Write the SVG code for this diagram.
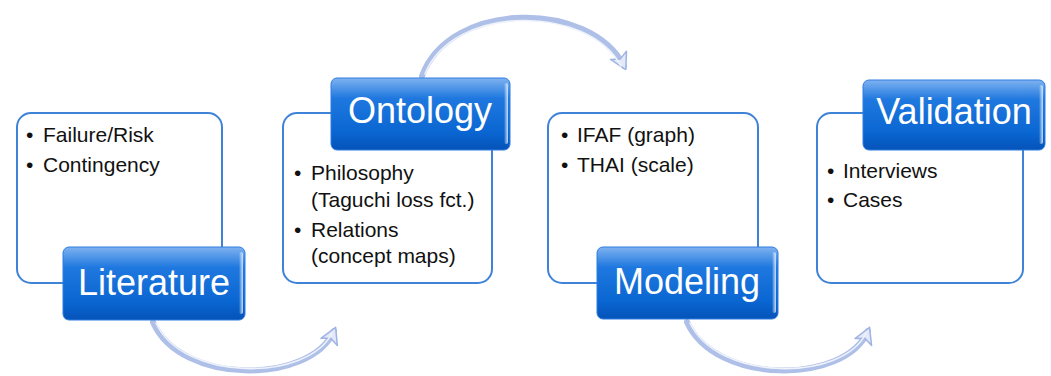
<svg xmlns="http://www.w3.org/2000/svg" width="1051" height="376" viewBox="0 0 1051 376">
  <style>
    .card { fill: #ffffff; stroke: #3f83d9; stroke-width: 2; }
    .label { fill: url(#lblGrad); stroke: #2f7de0; stroke-width: 1; }
    .shine { fill: url(#shineGrad); }
    .ltxt { font-family: "Liberation Sans", Arial, sans-serif; font-size: 36px; fill: #ffffff; text-anchor: middle; }
    .btxt { font-family: "Liberation Sans", Arial, sans-serif; font-size: 21px; fill: #111111; }
    .arc { fill: none; stroke: #aebfe8; stroke-width: 6; stroke-linecap: round; }
    .arcHi { fill: none; stroke: #eef2fb; stroke-width: 1.6; stroke-linecap: round; }
  </style>
  <defs>
    <linearGradient id="lblGrad" x1="0" y1="0" x2="0" y2="1">
      <stop offset="0" stop-color="#7fb2f0"/>
      <stop offset="0.28" stop-color="#1f78df"/>
      <stop offset="0.75" stop-color="#0a66d2"/>
      <stop offset="1" stop-color="#0553b8"/>
    </linearGradient>
    <linearGradient id="shineGrad" x1="0" y1="0" x2="1" y2="0">
      <stop offset="0" stop-color="#ffffff" stop-opacity="0"/>
      <stop offset="1" stop-color="#dbe9ff" stop-opacity="0.9"/>
    </linearGradient>
    <marker id="head" markerUnits="userSpaceOnUse" markerWidth="24" markerHeight="24" viewBox="-2 -12 24 24" refX="12" refY="0" orient="auto">
      <path d="M0,-9 L16,0 L0,9 L4,0 Z" fill="#e3e9f8" stroke="#9fb3e3" stroke-width="1.5" stroke-linejoin="round"/>
    </marker>
  </defs>

  <g id="connectors">
    <path class="arc" d="M153,322 C180,385 310,385 334,331" marker-end="url(#head)"/>
    <path class="arcHi" d="M156,323 C183,382 308,382 332,333"/>
    <path class="arc" d="M422,76 C450,0 590,0 624,66" marker-end="url(#head)"/>
    <path class="arcHi" d="M425,74 C453,4 588,4 621,66"/>
    <path class="arc" d="M687,322 C715,385 845,385 868,331" marker-end="url(#head)"/>
    <path class="arcHi" d="M690,323 C718,382 843,382 866,333"/>
  </g>

  <g id="literature">
    <rect class="card" x="17" y="113" width="205" height="170" rx="14"/>
    <text class="btxt" x="26" y="142">•</text>
    <text class="btxt" x="43" y="142">Failure/Risk</text>
    <text class="btxt" x="26" y="172">•</text>
    <text class="btxt" x="43" y="172">Contingency</text>
    <rect class="label" x="63" y="247" width="182" height="73" rx="6"/>
    <rect class="shine" x="239" y="252" width="4" height="62" rx="2"/>
    <text class="ltxt" x="154" y="295">Literature</text>
  </g>

  <g id="ontology">
    <rect class="card" x="283" y="113" width="209" height="170" rx="14"/>
    <rect class="label" x="331" y="78" width="179" height="72" rx="6"/>
    <rect class="shine" x="504" y="83" width="4" height="61" rx="2"/>
    <text class="ltxt" x="420" y="123">Ontology</text>
    <text class="btxt" x="294" y="180">•</text>
    <text class="btxt" x="311" y="180">Philosophy</text>
    <text class="btxt" x="311" y="207">(Taguchi loss fct.)</text>
    <text class="btxt" x="294" y="237">•</text>
    <text class="btxt" x="311" y="237">Relations</text>
    <text class="btxt" x="311" y="263">(concept maps)</text>
  </g>

  <g id="modeling">
    <rect class="card" x="548" y="113" width="210" height="170" rx="14"/>
    <text class="btxt" x="561" y="142">•</text>
    <text class="btxt" x="577" y="142">IFAF (graph)</text>
    <text class="btxt" x="561" y="172">•</text>
    <text class="btxt" x="577" y="172">THAI (scale)</text>
    <rect class="label" x="597" y="247" width="181" height="72" rx="6"/>
    <rect class="shine" x="772" y="252" width="4" height="61" rx="2"/>
    <text class="ltxt" x="687" y="294">Modeling</text>
  </g>

  <g id="validation">
    <rect class="card" x="817" y="113" width="206" height="170" rx="14"/>
    <rect class="label" x="863" y="80" width="182" height="70" rx="6"/>
    <rect class="shine" x="1039" y="85" width="4" height="59" rx="2"/>
    <text class="ltxt" x="954" y="124">Validation</text>
    <text class="btxt" x="827" y="178">•</text>
    <text class="btxt" x="843" y="178">Interviews</text>
    <text class="btxt" x="827" y="207">•</text>
    <text class="btxt" x="843" y="207">Cases</text>
  </g>
</svg>
